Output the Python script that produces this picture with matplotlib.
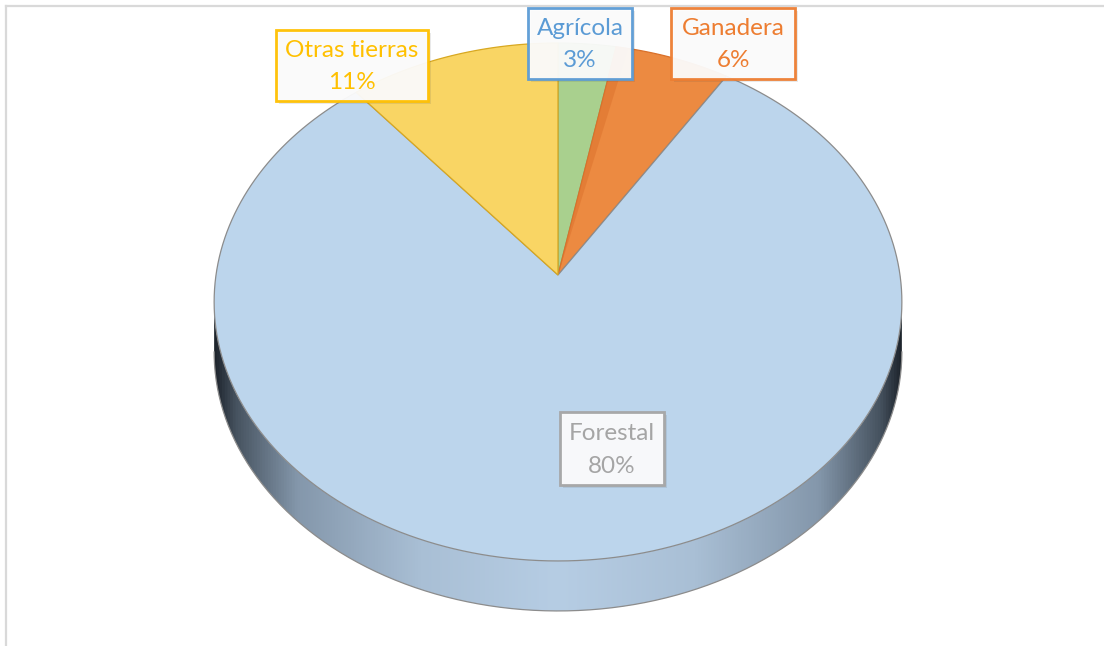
import numpy as np
import matplotlib
matplotlib.use("Agg")
import matplotlib.pyplot as plt
import matplotlib.patheffects as pe
from matplotlib.colors import LinearSegmentedColormap
from matplotlib.patches import Polygon, Rectangle

# data: land use shares (%), clockwise from 12 o'clock
categories = ["Agrícola", "Ganadera", "Forestal", "Otras tierras"]
shares = [3, 6, 80, 11]

slice_colors = ["#A9D08E", "#EC8A41", "#BCD5EC", "#F9D564"]
edge_colors = ["#7FA866", "#D9702A", "#8C8C8C", "#D8A821"]
label_colors = ["#5B9BD5", "#ED7D31", "#A5A5A5", "#FFC000"]
# label boxes: left, top, width, height (pixels)
label_boxes = [(528, 8, 104, 71), (671, 8, 124, 71),
               (560, 412, 104, 73), (276, 30, 152, 71)]

# projection of the tilted disc onto the picture (pixels)
CX, CY = 558.0, 275.0
A, B, K = 342.0, 227.5, 0.1042
DEPTH = 50.0


def project(t, r=1.0, drop=0.0):
    u, v = r * np.cos(t), r * np.sin(t)
    w = 1 + K * v
    return CX + A * u / w, (CY - B * v) / w + drop


plt.rcParams["font.family"] = ["Lato", "DejaVu Sans"]
fig = plt.figure(figsize=(11.04, 6.46), dpi=100)
ax = fig.add_axes([0, 0, 1, 1])
ax.set_xlim(0, 1104)
ax.set_ylim(646, 0)
ax.axis("off")

# chart frame (only top and left visible)
ax.plot([6, 1104], [6, 6], color="#D9D9D9", lw=1.6, zorder=0)
ax.plot([6, 6], [6, 646], color="#D9D9D9", lw=1.6, zorder=0)

# side wall of the pie (front half)
t0 = np.pi + np.arcsin(K)
t1 = 2 * np.pi - np.arcsin(K)
ts = np.linspace(t0, t1, 300)
xt, yt = project(ts)
xb, yb = project(ts[::-1], drop=DEPTH)
side = Polygon(np.column_stack([np.r_[xt, xb], np.r_[yt, yb]]), closed=True,
               fc="none", ec="none")
ax.add_patch(side)
side_cmap = LinearSegmentedColormap.from_list(
    "side", [(0.0, "#1E252D"), (0.03, "#46525F"), (0.12, "#8497AB"),
             (0.3, "#A9BFD5"), (0.5, "#B6CDE4"), (0.7, "#A9BFD5"),
             (0.88, "#8497AB"), (0.97, "#46525F"), (1.0, "#1E252D")])
grad = np.linspace(0, 1, 512)[None, :]
img = ax.imshow(grad, cmap=side_cmap, aspect="auto",
                extent=[xt.min(), xt.max(), yb.max() + 2, yt.min()], zorder=1)
img.set_clip_path(side)
ax.plot(xb, yb, color="#8C8C8C", lw=0.9, zorder=2)

# top face slices
bounds = np.pi / 2 - 2 * np.pi * np.r_[0, np.cumsum(shares)] / sum(shares)
for i, cat in enumerate(categories):
    tt = np.linspace(bounds[i], bounds[i + 1], 200)
    xs, ys = project(tt)
    ax.fill(np.r_[CX, xs, CX], np.r_[CY, ys, CY], fc=slice_colors[i],
            ec=edge_colors[i], lw=0.9, zorder=3)

# slightly darker inner wall along the left side of the orange slice
tt = np.linspace(bounds[1], bounds[1] - 0.04, 20)
xs, ys = project(tt)
ax.fill(np.r_[CX, xs, CX], np.r_[CY, ys, CY], fc="#DE7530", ec="none",
        alpha=0.6, zorder=3)

# data labels: framed box, category on top, share below
for i, cat in enumerate(categories):
    x0, y0, w, h = label_boxes[i]
    box = Rectangle((x0, y0), w, h, fc="#FCFCFC", ec=label_colors[i], lw=2,
                    alpha=0.95, zorder=4)
    box.set_path_effects([pe.SimplePatchShadow(offset=(2, -2), alpha=0.12),
                          pe.Normal()])
    ax.add_patch(box)
    xc = x0 + w / 2
    ax.text(xc, y0 + h * 0.29, cat, ha="center", va="center", fontsize=17.5,
            color=label_colors[i], zorder=5)
    ax.text(xc, y0 + h * 0.74, f"{shares[i]}%", ha="center", va="center",
            fontsize=17.5, color=label_colors[i], zorder=5)

fig.savefig("out.png", dpi=100)
